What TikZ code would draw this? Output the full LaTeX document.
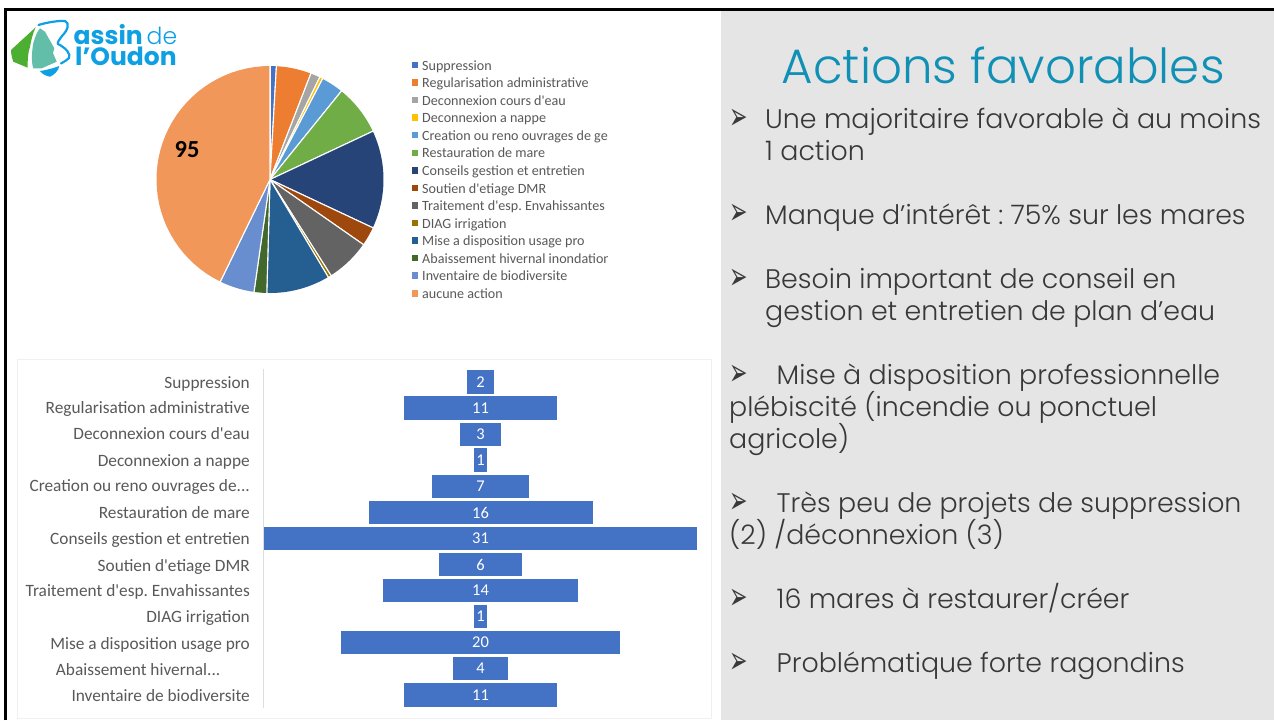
\documentclass[tikz,border=0pt]{standalone}
\usepackage{fontspec}
\setmainfont{Carlito}[Ligatures=TeXOff]
\newfontfamily\popl{Poppins Light}
\newfontfamily\popb{Poppins}[BoldFont={* Bold}]
\newfontfamily\deja{DejaVu Sans}
\newcommand\tdots{...}
\frenchspacing
\definecolor{sa}{HTML}{4472C4}\definecolor{sb}{HTML}{ED7D31}\definecolor{sc}{HTML}{A5A5A5}
\definecolor{sd}{HTML}{FFC000}\definecolor{se}{HTML}{5B9BD5}\definecolor{sf}{HTML}{70AD47}
\definecolor{sg}{HTML}{264478}\definecolor{sh}{HTML}{9E480E}\definecolor{si}{HTML}{636363}
\definecolor{sj}{HTML}{997300}\definecolor{sk}{HTML}{255E91}\definecolor{sl}{HTML}{43682B}
\definecolor{sm}{HTML}{698ED0}\definecolor{sn}{HTML}{F1975A}
\definecolor{panel}{HTML}{E5E5E5}\definecolor{bodytxt}{HTML}{383838}\definecolor{titletxt}{HTML}{1190B6}
\definecolor{charttxt}{HTML}{595959}\definecolor{framec}{HTML}{F0F0F0}\definecolor{logoblue}{HTML}{0FA0E4}
\definecolor{logogreen}{HTML}{4CAF32}\definecolor{logoteal}{HTML}{62BDA9}\definecolor{axisc}{HTML}{DDDDDD}
\tikzset{
  legendtxt/.style={anchor=base west,inner sep=0pt,text=charttxt,font=\fontsize{14.1}{16}\selectfont},
  legendkey/.style={minimum size=6.5pt,inner sep=0pt,anchor=center},
  catlabel/.style={anchor=base east,inner sep=0pt,text=charttxt,font=\fontsize{17.3}{20}\selectfont},
  barbox/.style={fill=sa,inner sep=0pt,text=white,font=\fontsize{16.5}{18}\selectfont,anchor=center},
  bodyline/.style={anchor=base west,inner sep=0pt,text=bodytxt,font=\popl\fontsize{26.85}{32}\selectfont},
  bulletmark/.style={anchor=base west,inner sep=0pt,text=bodytxt,font=\deja\fontsize{20}{24}\selectfont},
  wedgeline/.style={draw=white,line width=1.1pt,line join=round},
}
\begin{document}
\begin{tikzpicture}[x=1pt,y=-1pt]
\useasboundingbox (0,0) rectangle (1274,720);
\fill[white] (0,0) rectangle (1274,720);
% panel and slide frame
\fill[panel] (721,10) rectangle (1274,720);
\draw[black,line width=2.8pt] (5.6,720) -- (5.6,9.6) -- (1274,9.6);
% logo
\fill[logogreen] (35.7,27.3) -- (11,50) .. controls (11,54) and (12,58) .. (13.3,61.7) -- (27.7,67.7) .. controls (27.5,60) and (28,52) .. (30,47) .. controls (31,40) and (33,33) .. (35.7,27.3) -- cycle;
\fill[logoteal] (40,28.3) -- (45,31.7) -- (54.3,48.3) -- (53,53) -- (56.7,61.7) -- (41.7,68.3) -- (33.3,68.3) .. controls (31,62) and (32,50) .. (33.3,43.3) .. controls (35,37) and (37,32) .. (40,28.3) -- cycle;
\draw[logoblue,line width=2.2pt,line cap=round] (38.5,25) .. controls (48,22) and (60,20.5) .. (65,21) .. controls (70,23) and (68,30) .. (62,36) .. controls (59,40) and (57,43) .. (58,44) .. controls (66,48) and (71,54) .. (69,58) .. controls (67,60) and (64,62) .. (61,63.5);
\fill[logoblue] (40,71) .. controls (47,70) and (54,68) .. (59.3,66) .. controls (58.5,71) and (54,75) .. (50,76.7) .. controls (46,76) and (42,74) .. (40,71) -- cycle;
\node[anchor=base west,inner sep=0pt,text=logoblue,font=\popb\bfseries\fontsize{25}{25}\selectfont] (logoa) at (73.5,44.3) {assin};
\node[anchor=base west,inner sep=0pt,text=logoblue,font=\popl\fontsize{23.5}{25}\selectfont] (logob) at (146.5,44.3) {de};
\node[anchor=base west,inner sep=0pt,text=logoblue,font=\popb\bfseries\fontsize{25}{26}\selectfont] (logoc) at (75,65) {l’Oudon};
% pie
\begin{scope}[shift={(270,179.5)}]
\foreach \p/\q/\c in {0/2/sa,2/13/sb,13/16/sc,16/17/sd,17/24/se,24/40/sf,40/71/sg,71/77/sh,77/91/si,91/92/sj,92/112/sk,112/116/sl,116/127/sm,127/222/sn}{
  \pgfmathsetmacro\aa{-90+\p*1.621622}
  \pgfmathsetmacro\bb{-90+\q*1.621622}
  \fill[\c] (0,0) -- plot[domain=\aa:\bb,samples=40] (\x:113.5) -- cycle;
  \draw[wedgeline] (0,0) -- (\aa:114.5);
  \draw[wedgeline] (0,0) -- (\bb:114.5);
}
\end{scope}
\node[anchor=base,inner sep=0pt,text=black,font=\bfseries\fontsize{24.5}{26}\selectfont] (n95) at (187,157) {95};
% legend
\begin{scope}
\clip (405,50) rectangle (607.5,305);
\foreach \i/\c/\t in {0/sa/Suppression,1/sb/Regularisation administrative,2/sc/Deconnexion cours d'eau,3/sd/Deconnexion a nappe,4/se/Creation ou reno ouvrages de ge,5/sf/Restauration de mare,6/sg/Conseils gestion et entretien,7/sh/Soutien d'etiage DMR,8/si/Traitement d'esp. Envahissantes,9/sj/DIAG irrigation,10/sk/Mise a disposition usage pro,11/sl/Abaissement hivernal inondation,12/sm/Inventaire de biodiversite,13/sn/aucune action}{
  \node[legendkey,fill=\c] (key\i) at (414.8,65+17.56*\i) {};
  \node[legendtxt] (leg\i) at (422,70.1+17.56*\i) {\t};
}
\end{scope}
% bar chart frame and axis
\draw[framec,line width=1pt] (17,359) rectangle (711,718);
\draw[axisc,line width=1pt] (263.5,369) -- (263.5,708);
% bars
\foreach \i/\w/\yc/\n in {1/27/382/2,2/153.6/408/11,3/41/434.3/3,4/13.5/460.2/1,5/97/486.3/7,6/224/512.5/16,7/433.5/538.5/31,8/83.5/564.5/6,9/195.5/590.5/14,10/13.5/616.5/1,11/279.5/642.5/20,12/55.5/668.5/4,13/153.6/695/11}{
  \node[barbox,minimum width=\w pt,minimum height=23.5pt] (bar\i) at (480.5,\yc) {\n};
}
% category labels
\foreach \i/\yb/\t in {1/388.4/Suppression,2/413.9/Regularisation administrative,3/439.9/Deconnexion cours d'eau,4/466.4/Deconnexion a nappe,5/491.9/Creation ou reno ouvrages de\tdots,6/518.4/Restauration de mare,7/544.7/Conseils gestion et entretien,8/571.4/Soutien d'etiage DMR,9/596.5/Traitement d'esp. Envahissantes,10/622.4/DIAG irrigation,11/649/Mise a disposition usage pro,13/701.2/Inventaire de biodiversite}{
  \node[catlabel] (cat\i) at (250,\yb) {\t};
}
\node[catlabel] (cat12) at (220.5,675.3) {Abaissement hivernal...};
% right panel text
\node[anchor=base west,inner sep=0pt,text=titletxt,font=\popl\fontsize{48.3}{52}\selectfont] (title) at (781.5,83) {Actions favorables};
\foreach \k/\yb in {a/127.7,b/223.3,c/287.7,d/383.7,e/511.7,f/607.7,g/671.7}{
  \node[bulletmark] (bul\k) at (729.5,\yb+1.4) {\scalebox{1.1}[1.9]{➢}};
}
\node[bodyline] (la) at (765,128.5) {Une majoritaire favorable à au moins};
\node[bodyline] (lb) at (765,160.5) {1 action};
\node[bodyline] (lc) at (765,224.2) {Manque d’intérêt : 75\% sur les mares};
\node[bodyline] (ld) at (765,288.5) {Besoin important de conseil en};
\node[bodyline] (le) at (765,320.5) {gestion et entretien de plan d’eau};
\node[bodyline] (lf) at (776.5,384.5) {Mise à disposition professionnelle};
\node[bodyline] (lg) at (729,416.5) {plébiscité (incendie ou ponctuel};
\node[bodyline] (lh) at (729,448.5) {agricole)};
\node[bodyline] (li) at (776.5,512.5) {Très peu de projets de suppression};
\node[bodyline] (lj) at (729,544.2) {(2) /déconnexion (3)};
\node[bodyline] (lk) at (776.5,608.5) {16 mares à restaurer/créer};
\node[bodyline] (ll) at (776.5,672.5) {Problématique forte ragondins};
\end{tikzpicture}
\end{document}
